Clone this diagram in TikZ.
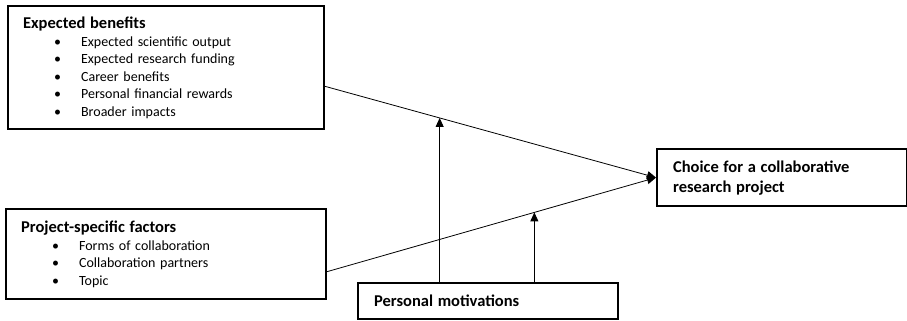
\documentclass[tikz,border=0pt]{standalone}
\usepackage{fontspec}
\setmainfont{Carlito}
\usepackage{tikz}
\usetikzlibrary{calc,arrows.meta}
\tikzstyle{factorbox}=[rectangle,draw=black,fill=white,line width=2.2pt,
                      font=\fontsize{14}{17.5}\selectfont,inner xsep=15pt,
                      inner ysep=0pt,anchor=north west,align=left]
\tikzstyle{effect}=[line width=0.8pt,-{Triangle[length=9pt,width=8pt]}]
\newcommand\bulletitem[1]{\hspace*{31pt}\makebox[27pt][l]{\textbullet}#1}
\newcommand\boxtitle[1]{{\fontsize{16.5}{17.5}\selectfont\bfseries #1}}

\begin{document}
\begin{tikzpicture}[x=1pt,y=-1pt]
	\useasboundingbox (0,0) rectangle (907,321);
	% factor boxes
	\node [factorbox,text width=286pt,minimum height=123pt] (benefits) at (7,5) {
		\boxtitle{Expected benefits}\\
		\bulletitem{Expected scientific output}\\
		\bulletitem{Expected research funding}\\
		\bulletitem{Career benefits}\\
		\bulletitem{Personal financial rewards}\\
		\bulletitem{Broader impacts}
	};
	\node [factorbox,text width=290pt,minimum height=90pt] (project) at (5,208) {
		\boxtitle{Project-specific factors}\\
		\bulletitem{Forms of collaboration}\\
		\bulletitem{Collaboration partners}\\
		\bulletitem{Topic}
	};
	\node [factorbox,text width=218pt,minimum height=57pt,inner xsep=16pt,
		font=\fontsize{14}{20}\selectfont] (choice) at (656,148) {
		\boxtitle{Choice for a collaborative}\\
		\boxtitle{research project}
	};
	\node [factorbox,text width=228pt,minimum height=36pt,inner xsep=16pt] (motivations) at (357,282) {
		\boxtitle{Personal motivations}
	};
	% effects
	\draw [effect] ($(benefits.north east)!0.65!(benefits.south east)$) --
		node [pos=0.346,coordinate] (onbenefits) {} (choice.west);
	\draw [effect] ($(project.north east)!0.69!(project.south east)$) --
		node [pos=0.63,coordinate] (onproject) {} (choice.west);
	\draw [effect] (onbenefits |- motivations.north) -- (onbenefits);
	\draw [effect] (onproject |- motivations.north) -- (onproject);
\end{tikzpicture}
\end{document}
